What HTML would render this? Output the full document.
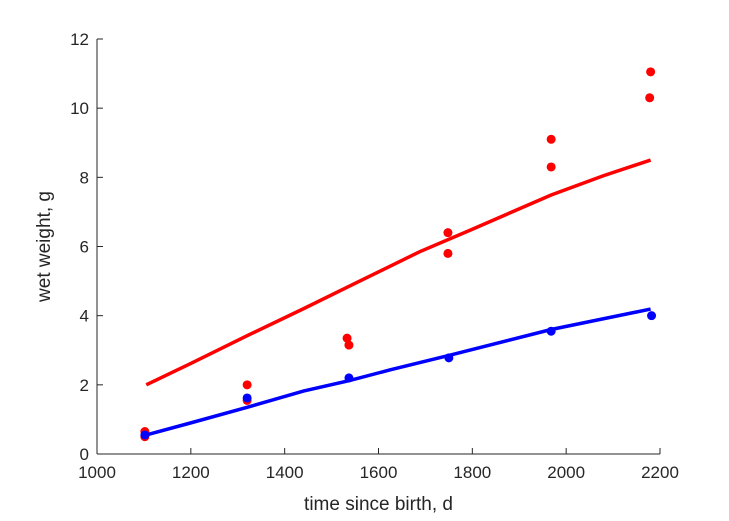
<!DOCTYPE html>
<html><head><meta charset="utf-8"><style>
body{margin:0;background:#fff}
svg{display:block;font-family:"Liberation Sans",sans-serif}
</style></head><body>
<svg id="chart" width="729" height="521">
<g id="axes"></g><g id="marks"></g>
</svg>
<script>
const xTicks=[1000,1200,1400,1600,1800,2000,2200];
const yTicks=[0,2,4,6,8,10,12];
const redPtsT=[1102,1102,1320,1320,1533,1537,1748,1748,1968,1968,2180,2178];
const redPtsW=[0.65,0.5,2.0,1.55,3.35,3.15,6.4,5.8,9.1,8.3,11.05,10.3];
const bluePtsT=[1102,1320,1537,1750,1968,2182];
const bluePtsW=[0.55,1.62,2.2,2.78,3.55,4.0];
const redCurveT=[1105,1200,1320,1440,1560,1688,1800,1968,2080,2180];
const redCurveW=[2.0,2.62,3.42,4.2,5.0,5.85,6.5,7.49,8.05,8.5];
const blueCurveT=[1105,1200,1320,1440,1537,1624,1750,1968,2180];
const blueCurveW=[0.55,0.9,1.35,1.82,2.12,2.43,2.85,3.6,4.19];
const X0=97,X1=660,Y0=454,Y1=39;
const sx=t=>X0+(t-1000)/1200*(X1-X0);
const sy=w=>Y0-w/12*(Y0-Y1);
const NS="http://www.w3.org/2000/svg";
function mk(tag,attrs,parent){const e=document.createElementNS(NS,tag);for(const k in attrs)e.setAttribute(k,attrs[k]);parent.appendChild(e);return e;}
const ax=document.getElementById('axes'),mg=document.getElementById('marks');
let l=mk('line',{x1:X0,y1:Y0,x2:X1,y2:Y0,stroke:'#262626','stroke-width':1},ax);


l=mk('line',{x1:X0,y1:Y0,x2:X0,y2:Y1,stroke:'#262626','stroke-width':1},ax);


xTicks.forEach(v=>{const x=sx(v);
mk('line',{x1:x,y1:Y0,x2:x,y2:Y0-6,stroke:'#262626'},ax);
const t=mk('text',{x:x,y:Y0+24,'text-anchor':'middle','font-size':17,fill:'#262626'},ax);t.textContent=v;

});
yTicks.forEach(v=>{const y=sy(v);
mk('line',{x1:X0,y1:y,x2:X0+6,y2:y,stroke:'#262626'},ax);
const t=mk('text',{x:X0-8,y:y+6,'text-anchor':'end','font-size':17,fill:'#262626'},ax);t.textContent=v;

});
let t=mk('text',{x:(X0+X1)/2,y:510,'text-anchor':'middle','font-size':19,fill:'#262626'},ax);t.textContent='time since birth, d';


t=mk('text',{x:0,y:0,'text-anchor':'middle','font-size':19,fill:'#262626',transform:'translate(50,'+((Y0+Y1)/2)+') rotate(-90)'},ax);t.textContent='wet weight, g';


function curve(T,W,c,name){const p=mk('polyline',{points:T.map((v,i)=>sx(v)+','+sy(W[i])).join(' '),fill:'none',stroke:c,'stroke-width':3.5},mg);

}
function pts(T,W,c,name){T.forEach((v,i)=>{const d=mk('circle',{cx:sx(v),cy:sy(W[i]),r:4.5,fill:c},mg);

});}
curve(redCurveT,redCurveW,'#ff0000','red-fit-line');
pts(redPtsT,redPtsW,'#ff0000','red-data-point');
curve(blueCurveT,blueCurveW,'#0000ff','blue-fit-line');
pts(bluePtsT,bluePtsW,'#0000ff','blue-data-point');
</script>
</body></html>
